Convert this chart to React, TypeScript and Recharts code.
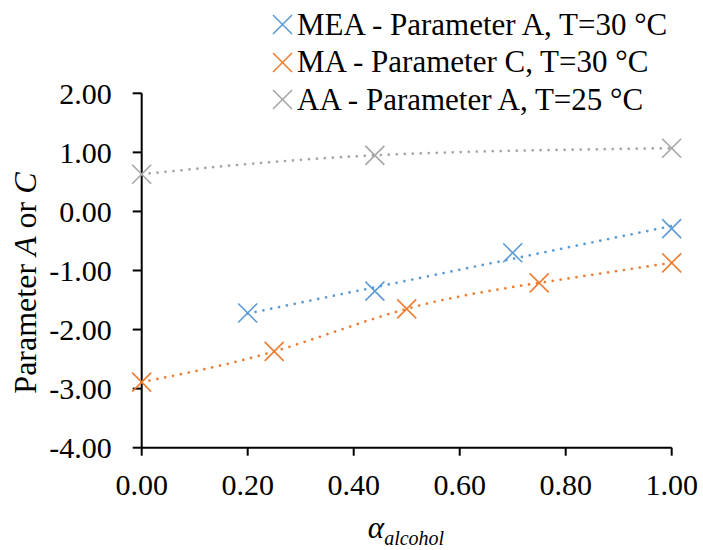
import React from 'react';
import { ScatterChart, Scatter, XAxis, YAxis, Legend } from 'recharts';

// x positions (alcohol fraction) and fitted parameter values per series
const meaX = [0.2, 0.44, 0.7, 1.0];
const meaA = [-1.72, -1.35, -0.7, -0.29];

const maX = [0, 0.25, 0.5, 0.75, 1.0];
const maC = [-2.89, -2.37, -1.65, -1.21, -0.87];

const aaX = [0, 0.44, 1.0];
const aaA = [0.63, 0.95, 1.07];

const xTicks = [0, 0.2, 0.4, 0.6, 0.8, 1.0];
const yTicks = [-4, -3, -2, -1, 0, 1, 2];

const seriesNames = [
  'MEA - Parameter A, T=30 °C',
  'MA - Parameter C, T=30 °C',
  'AA - Parameter A, T=25 °C',
];
const seriesColors = ['#5B9BD5', '#ED7D31', '#A5A5A5'];

const toPoints = (xs: number[], ys: number[]) => xs.map((x, i) => ({ x, y: ys[i] }));

const meaData = toPoints(meaX, meaA);
const maData = toPoints(maX, maC);
const aaData = toPoints(aaX, aaA);

const FONT = 'Liberation Serif, DejaVu Serif, serif';

const dotted = (color: string) => ({
  stroke: color,
  strokeWidth: 2.75,
  strokeDasharray: '0 8',
  strokeLinecap: 'round' as const,
  fill: 'none',
});

const makeCross = (color: string) => (props: any) => {
  const { cx, cy } = props;
  const s = 9.5;
  return (
    <g>
      <line x1={cx - s} y1={cy - s} x2={cx + s} y2={cy + s} stroke={color} strokeWidth={1.6} />
      <line x1={cx - s} y1={cy + s} x2={cx + s} y2={cy - s} stroke={color} strokeWidth={1.6} />
    </g>
  );
};

const LegendBox = () => (
  <div style={{ fontFamily: FONT, fontSize: 31, color: '#000' }}>
    {seriesNames.map((name, i) => (
      <div key={name} style={{ display: 'flex', alignItems: 'center', height: 37.5, whiteSpace: 'nowrap' }}>
        <svg width={21} height={21} style={{ marginRight: 4 }}>
          <line x1={1} y1={1} x2={20} y2={20} stroke={seriesColors[i]} strokeWidth={1.6} />
          <line x1={1} y1={20} x2={20} y2={1} stroke={seriesColors[i]} strokeWidth={1.6} />
        </svg>
        <span>{name}</span>
      </div>
    ))}
  </div>
);

const YTitle = () => (
  <text
    x={25}
    y={283}
    transform="rotate(-90 25 283)"
    textAnchor="middle"
    dominantBaseline="central"
    fontFamily={FONT}
    fontSize={32}
    fill="#000"
  >
    Parameter <tspan fontStyle="italic">A</tspan> or <tspan fontStyle="italic">C</tspan>
  </text>
);

const XTitle = () => (
  <text x={406} y={538} textAnchor="middle" fontFamily={FONT} fill="#000">
    <tspan fontSize={31} fontStyle="italic">α</tspan>
    <tspan fontSize={20} fontStyle="italic" dy={7}>alcohol</tspan>
  </text>
);

const tickStyle = { fontSize: 30, fill: '#000', fontFamily: FONT };
const axisStroke = { stroke: '#000', strokeWidth: 2 };

export default function App() {
  return (
    <div style={{ position: 'absolute', left: 0, top: 0, width: 703, height: 550, background: '#fff', fontFamily: FONT }}>
      <ScatterChart
        width={703}
        height={550}
        margin={{ top: 93.3, right: 31.3, bottom: 42.3, left: 0 }}
        style={{ fontFamily: FONT }}
      >
        <XAxis
          type="number"
          dataKey="x"
          domain={[0, 1]}
          ticks={xTicks}
          interval={0}
          tickFormatter={(v: number) => v.toFixed(2)}
          height={60}
          tickSize={8}
          tickMargin={18}
          tick={tickStyle}
          axisLine={axisStroke}
          tickLine={axisStroke}
          label={<XTitle />}
        />
        <YAxis
          type="number"
          dataKey="y"
          domain={[-4, 2]}
          ticks={yTicks}
          interval={0}
          tickFormatter={(v: number) => v.toFixed(2)}
          width={141.7}
          tickSize={9}
          tickMargin={21}
          tick={tickStyle}
          axisLine={axisStroke}
          tickLine={axisStroke}
          label={<YTitle />}
        />
        <Legend
          layout="vertical"
          align="center"
          verticalAlign="middle"
          content={<LegendBox />}
          wrapperStyle={{ position: 'absolute', left: 272, top: 6, width: 431 }}
        />
        <Scatter
          name={seriesNames[0]}
          data={meaData}
          fill={seriesColors[0]}
          line={dotted(seriesColors[0])}
          lineType="fitting"
          shape={makeCross(seriesColors[0])}
          isAnimationActive={false}
        />
        <Scatter
          name={seriesNames[1]}
          data={maData}
          fill={seriesColors[1]}
          line={dotted(seriesColors[1])}
          lineType="joint"
          lineJointType="natural"
          shape={makeCross(seriesColors[1])}
          isAnimationActive={false}
        />
        <Scatter
          name={seriesNames[2]}
          data={aaData}
          fill={seriesColors[2]}
          line={dotted(seriesColors[2])}
          lineType="joint"
          lineJointType="natural"
          shape={makeCross(seriesColors[2])}
          isAnimationActive={false}
        />
      </ScatterChart>
    </div>
  );
}
